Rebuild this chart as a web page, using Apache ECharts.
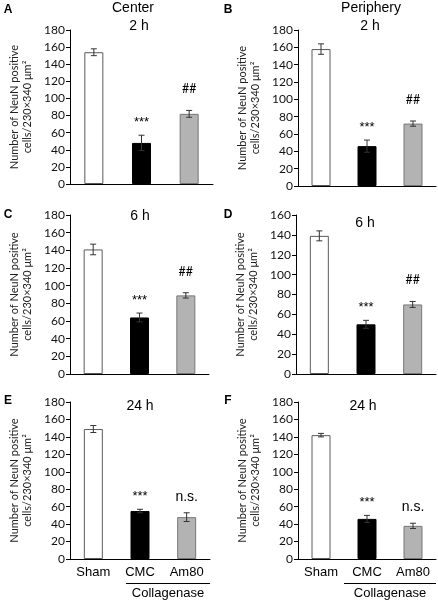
<!DOCTYPE html>
<html><head><meta charset="utf-8">
<script src="https://cdn.jsdelivr.net/npm/echarts@6.0.0/dist/echarts.min.js"></script>
<style>html,body{margin:0;padding:0;background:#fff}#c{width:438px;height:603px}</style>
</head><body><div id="c"></div>
<script>
// ---- data ----
const categories = ['Sham', 'CMC', 'Am80'];
const panelLetters = ['A', 'B', 'C', 'D', 'E', 'F'];
const panelTimes = ['2 h', '2 h', '6 h', '6 h', '24 h', '24 h'];
const columnTitles = ['Center', 'Periphery'];
const groupLabel = 'Collagenase';
const yName = 'Number of NeuN positive\ncells/230×340 μm²';
const yMax = [180, 180, 180, 160, 180, 180];

const meansA = [154, 48, 82];  const errA = [4, 9, 4];  const sigA = ['', '***', '##'];
const meansB = [158, 46, 72];  const errB = [6, 7, 3];  const sigB = ['', '***', '##'];
const meansC = [141, 64, 89];  const errC = [6, 5, 3];  const sigC = ['', '***', '##'];
const meansD = [139, 50, 70];  const errD = [5, 4, 3];  const sigD = ['', '***', '##'];
const meansE = [149, 55, 48];  const errE = [4, 2, 5];  const sigE = ['', '***', 'n.s.'];
const meansF = [142, 46, 38];  const errF = [2, 4, 3];  const sigF = ['', '***', 'n.s.'];

const means = [meansA, meansB, meansC, meansD, meansE, meansF];
const errs = [errA, errB, errC, errD, errE, errF];
const sigs = [sigA, sigB, sigC, sigD, sigE, sigF];

// ---- layout / style ----
const grids = [
  {left: 70, top: 30, width: 143, height: 154},
  {left: 298, top: 30, width: 138, height: 156},
  {left: 70, top: 215, width: 139, height: 159},
  {left: 296, top: 215, width: 140, height: 159},
  {left: 70, top: 402, width: 140, height: 157},
  {left: 298, top: 402, width: 138, height: 157}
];
const barStyles = [
  {color: '#ffffff', borderColor: '#5a5a5a', borderWidth: 1},
  {color: '#000000', borderColor: '#000000', borderWidth: 1},
  {color: '#b3b3b3', borderColor: '#777777', borderWidth: 1}
];
const sigStyle = {
  '***': {off: 13, font: '13px "Liberation Sans"'},
  '##': {off: 21, font: '12.5px Lato'},
  'n.s.': {off: 16, font: '14px "Liberation Sans"'}
};
const tickFont = 'Lato';

const option = {
  animation: false,
  backgroundColor: '#fff',
  grid: grids,
  xAxis: grids.map((g, i) => ({
    type: 'category', gridIndex: i, data: categories,
    axisLine: {lineStyle: {color: '#000', width: 1}},
    axisTick: {show: false},
    axisLabel: {show: i >= 4, color: '#000', fontFamily: 'Liberation Sans', fontSize: 13, margin: 7}
  })),
  yAxis: grids.map((g, i) => ({
    type: 'value', gridIndex: i, min: 0, max: yMax[i], interval: 20,
    splitLine: {show: false},
    axisLine: {show: true, lineStyle: {color: '#000', width: 1}},
    axisTick: {show: true, length: 4, lineStyle: {color: '#000'}},
    axisLabel: {color: '#111', fontFamily: tickFont, fontSize: 12, margin: 5},
    name: yName, nameLocation: 'middle', nameGap: 36, nameRotate: 90,
    nameTextStyle: {color: '#222', fontFamily: tickFont, fontSize: 11, lineHeight: 13}
  })),
  series: []
};

means.forEach((m, i) => {
  option.series.push({
    type: 'bar', xAxisIndex: i, yAxisIndex: i, barWidth: 19,
    data: m.map((v, j) => ({value: v, itemStyle: barStyles[j]})),
    z: 2
  });
  const sg = sigs[i];
  option.series.push({
    type: 'custom', xAxisIndex: i, yAxisIndex: i, z: 3,
    encode: {x: 0, y: 1},
    data: m.map((v, j) => [j, v, errs[i][j]]),
    renderItem: function (params, api) {
      const x = api.value(0), v = api.value(1), e = api.value(2);
      const top = api.coord([x, v + e]);
      const bot = api.coord([x, v - e]);
      const cx = top[0];
      const st = {stroke: '#333', lineWidth: 1};
      const children = [
        {type: 'line', shape: {x1: cx, y1: top[1], x2: cx, y2: bot[1]}, style: st},
        {type: 'line', shape: {x1: cx - 3, y1: top[1], x2: cx + 3, y2: top[1]}, style: st},
        {type: 'line', shape: {x1: cx - 3, y1: bot[1], x2: cx + 3, y2: bot[1]}, style: st}
      ];
      const s = sg[params.dataIndex];
      if (s) {
        children.push({type: 'text', style: {
          text: s, x: cx, y: top[1] - sigStyle[s].off, align: 'center', verticalAlign: 'middle',
          font: sigStyle[s].font, fill: '#000'
        }});
      }
      return {type: 'group', children: children};
    }
  });
});

// graphic texts
const gfx = [];
const letterPos = [[8, 10], [228, 10], [8, 215], [228, 215], [8, 401], [228, 401]];
panelLetters.forEach((L, i) => gfx.push({type: 'text', style: {
  text: L, x: letterPos[i][0], y: letterPos[i][1], font: 'bold 12px "Liberation Sans"', fill: '#000', align: 'center', verticalAlign: 'middle'}}));
const timePos = [[139, 26], [370, 26], [140, 216], [365, 223], [140, 406], [363, 406]];
panelTimes.forEach((t, i) => gfx.push({type: 'text', style: {
  text: t, x: timePos[i][0], y: timePos[i][1], font: '14px "Liberation Sans"', fill: '#000', align: 'center', verticalAlign: 'middle'}}));
const colPos = [[133, 8], [371, 8]];
columnTitles.forEach((t, i) => gfx.push({type: 'text', style: {
  text: t, x: colPos[i][0], y: colPos[i][1], font: '14px "Liberation Sans"', fill: '#000', align: 'center', verticalAlign: 'middle'}}));
[[126, 210], [344, 436]].forEach(([x1, x2]) => {
  gfx.push({type: 'line', shape: {x1: x1, y1: 583.5, x2: x2, y2: 583.5}, style: {stroke: '#000', lineWidth: 1}});
  gfx.push({type: 'text', style: {text: groupLabel, x: (x1 + x2) / 2, y: 593, font: '13px "Liberation Sans"', fill: '#000', align: 'center', verticalAlign: 'middle'}});
});
option.graphic = gfx;

const chart = echarts.init(document.getElementById('c'), null, {renderer: 'canvas'});
chart.setOption(option);
</script>
</body></html>
